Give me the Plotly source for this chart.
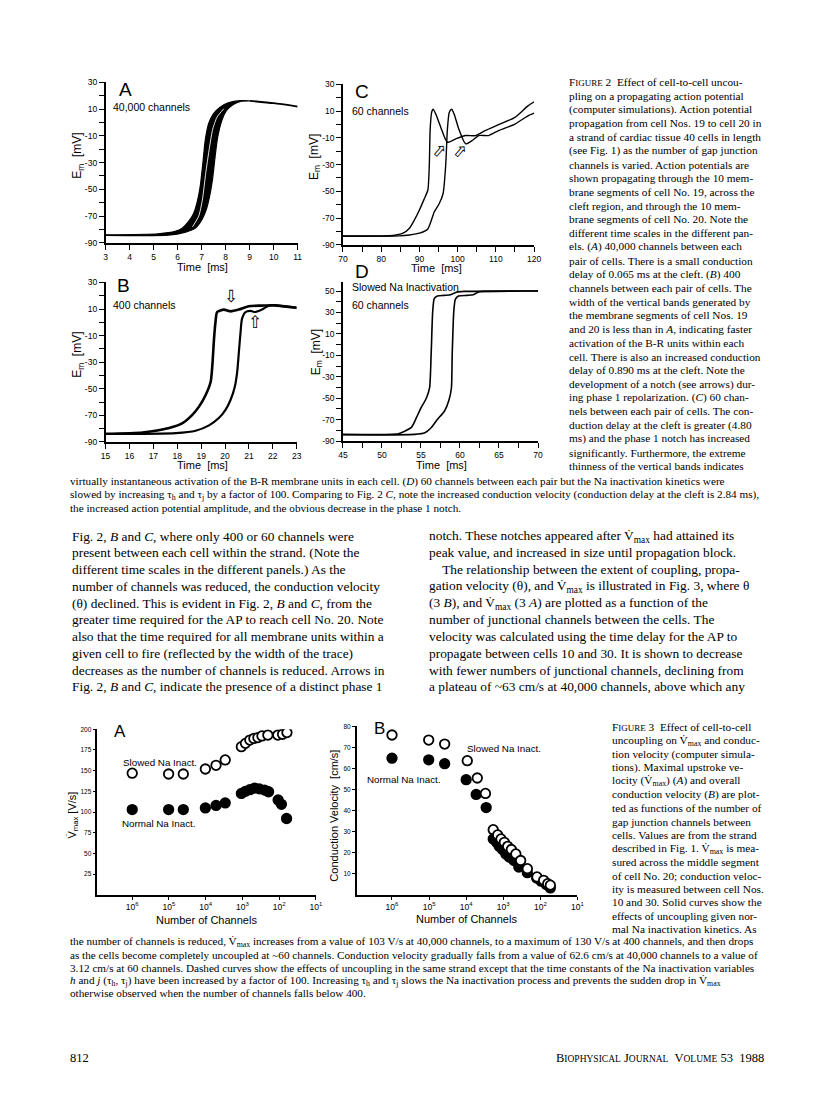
import plotly.graph_objects as go

# the page body adds an 8px margin, so the figure is 16px smaller than the window
OFF = 8
W, H = 816 - 2 * OFF, 1097 - 2 * OFF

# ---------------- Fig. 2 data (time [ms], Em [mV]) ----------------
# A: 40,000 channels - band of membrane segments, leading and trailing edges
a_lead_t = [3, 5.2, 5.9, 6.19, 6.46, 6.67, 6.81, 6.94, 7.05, 7.15, 7.29, 7.49, 7.77, 8.11, 8.66, 9.0]
a_lead_v = [-84, -83.2, -81.4, -79, -74, -67.8, -60, -48, -30.6, -13.3, -0.9, 6.5, 11.4, 14.7, 16.4, 16.2]
a_trail_t = [3, 5.6, 6.33, 6.74, 7.01, 7.19, 7.33, 7.45, 7.56, 7.67, 7.84, 8.04, 8.32, 8.66, 9.0]
a_trail_v = [-84.4, -84.3, -82, -79, -72.7, -65.3, -55.4, -43, -25.7, -10.8, 1.5, 9, 13.4, 15.9, 16.2]
a_gap_t = [6.62, 6.88, 7.03, 7.17, 7.31, 7.45, 7.64, 7.92]
a_gap_v = [-78, -70, -58, -38, -20.7, -5.9, 4, 10.2]
a_tail_t = [9.0, 10.0, 11.0]
a_tail_v = [16.2, 14.4, 11.9]

# B: 400 channels
b19_t = [15, 16.55, 17.66, 18.22, 18.63, 18.91, 19.19, 19.4, 19.47, 19.54, 19.6, 19.67, 19.95, 20.23, 20.58, 20.99, 21.55, 22.1, 23]
b19_v = [-83.8, -82.8, -79.5, -75.8, -69.6, -63.4, -54.6, -44.7, -32.2, -12.3, 0.1, 7.8, 9.6, 8.3, 9.6, 12.1, 12.6, 12.8, 11]
b20_t = [15, 17.94, 18.77, 19.33, 19.74, 20.02, 20.23, 20.41, 20.51, 20.58, 20.65, 20.71, 20.85, 21.06, 21.27, 21.55, 21.82, 22.1, 23]
b20_v = [-84, -83.3, -81.5, -77.5, -72, -65.8, -58.4, -48.4, -37.2, -22.3, -7.3, 2.6, 7.6, 8.6, 7.8, 9.6, 12.6, 12.8, 11]
b_arrow_t = [20.26, 21.27]
b_arrow_v = [19.5, 0.5]
b_arrow_s = ["⇩", "⇧"]

# C: 60 channels
c19_t = [70, 83.1, 85.7, 87.4, 88.7, 90.0, 91.3, 92.2, 92.6, 92.8, 93.2, 93.6, 94.3, 95.6, 97.3, 99.5, 102.1, 104.7, 107.2, 110.7, 115, 118.4, 120]
c19_v = [-83.3, -83, -81.3, -77.6, -71.4, -64, -55.4, -49.2, -29.4, -4.6, 9, 11.4, 7.7, -2.2, -13.3, -10.8, -8.3, -8.3, -4.6, -0.2, 5.3, 13.9, 17]
c20_t = [70, 84.8, 87.4, 90, 92.2, 93, 93.9, 95.2, 96.2, 96.9, 97.3, 97.8, 98.4, 99.1, 100.3, 102.1, 103.8, 105.5, 108.1, 110.7, 115, 118.4, 120]
c20_v = [-83.6, -83.3, -82.6, -81.3, -78.1, -72.7, -65.3, -59.1, -51.6, -29.4, -4.6, 9, 11.4, 7.7, -3.4, -14.5, -12, -8.3, -8.3, -4.6, 0.3, 6.5, 8.5]
c_arrow_t = [95.2, 100.5]
c_arrow_v = [-20, -20]

# D: slowed Na inactivation, 60 channels
d19_t = [45, 52.1, 52.97, 53.8, 54.4, 55.0, 55.7, 56.1, 56.3, 56.5, 56.7, 57.1, 58.0, 58.8, 59.6, 60.5, 68.4, 70]
d19_v = [-83.8, -83.2, -80.7, -77, -68.4, -59.1, -49.8, -40.5, -9.6, 30.5, 42.9, 45.4, 46, 46.6, 49.1, 49.7, 50, 50]
d20_t = [45, 54.2, 55.5, 56.3, 57.1, 58.0, 58.6, 58.9, 59.0, 59.2, 59.4, 59.8, 60.9, 61.7, 62.4, 63, 68.4, 70]
d20_v = [-84.2, -83.8, -82.3, -77.6, -69.9, -62.2, -51.4, -40.5, -9.6, 30.5, 42.3, 45.4, 46, 46.6, 49.1, 49.7, 50, 50]

# ---------------- Fig. 3 data (log10 number of channels) ----------------
vmax_slow_log = [6.0, 5.01, 4.61, 4.01, 3.72, 3.47, 3.03, 2.92, 2.80, 2.69, 2.58, 2.47, 2.31, 2.04, 1.91, 1.79]
vmax_slow = [147, 146, 146, 152, 156.5, 163, 179, 183, 187, 189, 190, 192, 193, 193, 194, 196]
vmax_norm_log = [6.0, 5.01, 4.61, 4.01, 3.72, 3.47, 3.03, 2.92, 2.80, 2.67, 2.54, 2.40, 2.29, 2.03, 1.94, 1.80]
vmax_norm = [103, 103, 103, 105, 108, 111, 122.5, 125, 127, 129, 128, 126.6, 124.5, 114.6, 109.3, 92.2]

cv_slow_log = [6.0, 5.01, 4.58, 3.97, 3.70, 3.48, 3.27, 3.15, 3.06, 2.97, 2.88, 2.78, 2.66, 2.53, 2.35, 2.09, 1.91, 1.80, 1.73]
cv_slow = [75.9, 73.5, 71.6, 63.7, 55.5, 48.2, 31.0, 28.5, 26.6, 25.0, 23.1, 21.6, 19.5, 16.4, 12.5, 8.6, 7.0, 5.4, 4.7]
cv_norm_log = [6.0, 5.01, 4.58, 4.0, 3.73, 3.46, 3.27, 3.18, 3.11, 3.02, 2.93, 2.84, 2.71, 2.58, 2.35, 2.10, 1.98, 1.84, 1.73]
cv_norm = [64.9, 64.1, 62.3, 54.7, 47.7, 41.5, 26.6, 25.0, 23.1, 21.6, 19.5, 18.0, 16.4, 13.3, 10.6, 8.1, 6.6, 5.0, 3.4]

# ---------------- tick labels ----------------
em_ticks = [30, 20, 10, 0, -10, -20, -30, -40, -50, -60, -70, -80, -90]
em_labels = ["30", "", "10", "", "-10", "", "-30", "", "-50", "", "-70", "", "-90"]
d_em_ticks = [50, 40, 30, 20, 10, 0, -10, -20, -30, -40, -50, -60, -70, -80, -90]
d_em_labels = ["50", "", "30", "", "10", "", "-10", "", "-30", "", "-50", "", "-70", "", "-90"]
a_ticks = [3, 4, 5, 6, 7, 8, 9, 10, 11]
b_ticks = [15, 16, 17, 18, 19, 20, 21, 22, 23]
c_ticks = [70, 75, 80, 85, 90, 95, 100, 105, 110, 115, 120]
c_labels = ["70", "", "80", "", "90", "", "100", "", "110", "", "120"]
d_ticks = [45, 47.5, 50, 52.5, 55, 57.5, 60, 62.5, 65, 67.5, 70]
d_labels = ["45", "", "50", "", "55", "", "60", "", "65", "", "70"]
chan_ticks = [1e6, 1e5, 1e4, 1e3, 1e2, 1e1]
chan_labels = ["10<sup>6</sup>", "10<sup>5</sup>", "10<sup>4</sup>", "10<sup>3</sup>", "10<sup>2</sup>", "10<sup>1</sup>"]
vmax_ticks = [25, 50, 75, 100, 125, 150, 175, 200]
cv_ticks = [10, 20, 30, 40, 50, 60, 70, 80]

fig = go.Figure()
black = "black"
sans = "Liberation Sans"
serif = "Liberation Serif"
ann = []


def px(x):
    return (x - OFF) / W


def py(y):
    return 1 - (y - OFF) / H


def note(x, y, s, size=11.5, family=serif, xa="left", ya="middle", angle=0):
    ann.append(dict(x=px(x), y=py(y), xref="paper", yref="paper", text=s, showarrow=False,
                    xanchor=xa, yanchor=ya, textangle=angle,
                    font=dict(size=size, family=family, color=black)))


def line(t, v, n, width=1.6, color=black):
    fig.add_trace(go.Scatter(x=t, y=v, mode="lines",
                             line=dict(color=color, width=width, shape="spline", smoothing=0.6),
                             xaxis=f"x{n}", yaxis=f"y{n}", hoverinfo="skip"))


# Fig 2 A band
fig.add_trace(go.Scatter(x=a_lead_t + a_trail_t[::-1], y=a_lead_v + a_trail_v[::-1], mode="lines",
                         fill="toself", fillcolor=black,
                         line=dict(color=black, width=1.2, shape="spline", smoothing=0.6),
                         xaxis="x", yaxis="y", hoverinfo="skip"))
line(a_tail_t, a_tail_v, "", 1.8)
line(a_gap_t, a_gap_v, "", 0.9, "white")
# B
line(b19_t, b19_v, 2, 2.6)
line(b20_t, b20_v, 2, 2.2)
# C
line(c19_t, c19_v, 3, 1.4)
line(c20_t, c20_v, 3, 1.4)
# D
line(d19_t, d19_v, 4, 1.6)
line(d20_t, d20_v, 4, 1.6)

# Fig 3
for xs, ys, n, filled in [(vmax_norm_log, vmax_norm, 5, True), (vmax_slow_log, vmax_slow, 5, False),
                          (cv_norm_log, cv_norm, 6, True), (cv_slow_log, cv_slow, 6, False)]:
    fig.add_trace(go.Scatter(x=[10 ** v for v in xs], y=ys, mode="markers",
                             marker=dict(size=9.5, color=black if filled else "white",
                                         line=dict(color=black, width=1.8)),
                             xaxis=f"x{n}", yaxis=f"y{n}", hoverinfo="skip"))

for t, v, s in zip(b_arrow_t, b_arrow_v, b_arrow_s):
    ann.append(dict(x=t, y=v, xref="x2", yref="y2", text=s, showarrow=False,
                    font=dict(size=17, family="DejaVu Sans", color=black)))
for t, v in zip(c_arrow_t, c_arrow_v):
    ann.append(dict(x=t, y=v, xref="x3", yref="y3", text="⇧", showarrow=False, textangle=40,
                    font=dict(size=17, family="DejaVu Sans", color=black)))

ax_common = dict(showline=True, linecolor=black, linewidth=1.5, ticks="outside", tickcolor=black,
                 tickwidth=1.3, showgrid=False, zeroline=False, fixedrange=True)


def set_axes(n, xdom, ydom, xr, yr, xt, xl, yt, yl, tick_size=8.5, xtick_size=None, xtype="linear", ticklen=5):
    key = "" if n == 1 else str(n)
    fig.layout[f"xaxis{key}"] = dict(ax_common, domain=[px(xdom[0]), px(xdom[1])], range=xr, type=xtype,
                                     anchor=f"y{key}", tickvals=xt, ticktext=xl, ticklen=ticklen,
                                     tickfont=dict(size=xtick_size or tick_size, family=sans, color=black))
    fig.layout[f"yaxis{key}"] = dict(ax_common, domain=[py(ydom[1]), py(ydom[0])], range=yr,
                                     anchor=f"x{key}", tickvals=yt, ticktext=yl, ticklen=ticklen,
                                     tickfont=dict(size=tick_size, family=sans, color=black))


set_axes(1, (102, 297), (78, 240), [3, 11], [-90, 30], a_ticks, [str(v) for v in a_ticks], em_ticks, em_labels)
set_axes(2, (102, 296), (280, 441), [15, 23], [-90, 30], b_ticks, [str(v) for v in b_ticks], em_ticks, em_labels)
set_axes(3, (343, 537), (80, 242), [70, 120], [-90, 30], c_ticks, c_labels, em_ticks, em_labels)
set_axes(4, (343, 541), (280, 440), [45, 70], [-90, 58], d_ticks, d_labels, d_em_ticks, d_em_labels)
set_axes(5, (93.6, 315.6), (731, 898), [6.95, 1], [0, 200], chan_ticks, chan_labels,
         vmax_ticks, [str(v) for v in vmax_ticks], tick_size=6.5, xtick_size=8.5, xtype="log", ticklen=3)
set_axes(6, (357, 581), (728, 898.3), [6.95, 1], [0, 80], chan_ticks, chan_labels,
         cv_ticks, [str(v) for v in cv_ticks], tick_size=6.5, xtick_size=8.5, xtype="log", ticklen=3)

# Fig 2 panel text
for x, y, s in [(114, 85, "A"), (112, 283, "B"), (353, 87, "C"), (353, 269, "D")]:
    note(x, y, s, 19, sans)
for x, y, s in [(107, 103, "40,000 channels"), (107, 303, "400 channels"), (350, 107, "60 channels"),
                (350, 285, "Slowed Na Inactivation"), (350, 303, "60 channels")]:
    note(x, y, s, 10.5, sans)
for x, y in [(200, 264), (200, 464), (438, 265), (443, 464)]:
    note(x, y, "Time  [ms]", 11, sans, xa="center")
for x, y in [(74, 152), (74, 353), (314, 153), (316, 350)]:
    note(x, y, "E<sub>m</sub>  [mV]", 12, sans, xa="center", angle=-90)

# Fig 3 panel text
note(108, 733, "A", 17, sans)
note(372, 730, "B", 17, sans)
note(118, 765, "Slowed Na Inact.", 9.8, sans)
note(117, 826, "Normal Na Inact.", 9.8, sans)
note(467, 750, "Slowed Na Inact.", 9.8, sans)
note(365, 782, "Normal Na Inact.", 9.8, sans)
note(204, 923, "Number of Channels", 11, sans, xa="center")
note(468, 922, "Number of Channels", 11, sans, xa="center")
note(68, 818, "V\u0307<sub>max</sub> [V/s]", 11, sans, xa="center", angle=-90)
note(333, 818, "Conduction Velocity  [cm/s]", 11, sans, xa="center", angle=-90)

# captions
sc = "<span style='font-size:9px'>"
vmax = "V\u0307<sub>max</sub>"
fig2_caption = [
    "F" + sc + "IGURE</span> 2  Effect of cell-to-cell uncou-",
    "pling on a propagating action potential",
    "(computer simulations). Action potential",
    "propagation from cell Nos. 19 to cell 20 in",
    "a strand of cardiac tissue 40 cells in length",
    "(see Fig. 1) as the number of gap junction",
    "channels is varied. Action potentials are",
    "shown propagating through the 10 mem-",
    "brane segments of cell No. 19, across the",
    "cleft region, and through the 10 mem-",
    "brane segments of cell No. 20. Note the",
    "different time scales in the different pan-",
    "els. (<i>A</i>) 40,000 channels between each",
    "pair of cells. There is a small conduction",
    "delay of 0.065 ms at the cleft. (<i>B</i>) 400",
    "channels between each pair of cells. The",
    "width of the vertical bands generated by",
    "the membrane segments of cell Nos. 19",
    "and 20 is less than in <i>A</i>, indicating faster",
    "activation of the B-R units within each",
    "cell. There is also an increased conduction",
    "delay of 0.890 ms at the cleft. Note the",
    "development of a notch (see arrows) dur-",
    "ing phase 1 repolarization. (<i>C</i>) 60 chan-",
    "nels between each pair of cells. The con-",
    "duction delay at the cleft is greater (4.80",
    "ms) and the phase 1 notch has increased",
    "significantly. Furthermore, the extreme",
    "thinness of the vertical bands indicates",
]
for i, s in enumerate(fig2_caption):
    note(570, 78 + i * 13.84, s, 11.3)

fig2_caption_wide = [
    "virtually instantaneous activation of the B-R membrane units in each cell. (<i>D</i>) 60 channels between each pair but the Na inactivation kinetics were",
    "slowed by increasing τ<sub>h</sub> and τ<sub>j</sub> by a factor of 100. Comparing to Fig. 2 <i>C</i>, note the increased conduction velocity (conduction delay at the cleft is 2.84 ms),",
    "the increased action potential amplitude, and the obvious decrease in the phase 1 notch.",
]
for i, s in enumerate(fig2_caption_wide):
    note(64, 481 + i * 13.5, s, 11.2)

body_left = [
    "Fig. 2, <i>B</i> and <i>C</i>, where only 400 or 60 channels were",
    "present between each cell within the strand. (Note the",
    "different time scales in the different panels.) As the",
    "number of channels was reduced, the conduction velocity",
    "(θ) declined. This is evident in Fig. 2, <i>B</i> and <i>C</i>, from the",
    "greater time required for the AP to reach cell No. 20. Note",
    "also that the time required for all membrane units within a",
    "given cell to fire (reflected by the width of the trace)",
    "decreases as the number of channels is reduced. Arrows in",
    "Fig. 2, <i>B</i> and <i>C</i>, indicate the presence of a distinct phase 1",
]
body_right = [
    "notch. These notches appeared after " + vmax + " had attained its",
    "peak value, and increased in size until propagation block.",
    "    The relationship between the extent of coupling, propa-",
    "gation velocity (θ), and " + vmax + " is illustrated in Fig. 3, where θ",
    "(3 <i>B</i>), and " + vmax + " (3 <i>A</i>) are plotted as a function of the",
    "number of junctional channels between the cells. The",
    "velocity was calculated using the time delay for the AP to",
    "propagate between cells 10 and 30. It is shown to decrease",
    "with fewer numbers of junctional channels, declining from",
    "a plateau of ~63 cm/s at 40,000 channels, above which any",
]
for i, s in enumerate(body_left):
    note(66, 536 + i * 16.9, s, 13.4)
for i, s in enumerate(body_right):
    note(428, 536 + i * 16.9, s, 13.4)

fig3_caption = [
    "F" + sc + "IGURE</span> 3  Effect of cell-to-cell",
    "uncoupling on " + vmax + " and conduc-",
    "tion velocity (computer simula-",
    "tions). Maximal upstroke ve-",
    "locity (" + vmax + ") (<i>A</i>) and overall",
    "conduction velocity (<i>B</i>) are plot-",
    "ted as functions of the number of",
    "gap junction channels between",
    "cells. Values are from the strand",
    "described in Fig. 1. " + vmax + " is mea-",
    "sured across the middle segment",
    "of cell No. 20; conduction veloc-",
    "ity is measured between cell Nos.",
    "10 and 30. Solid curves show the",
    "effects of uncoupling given nor-",
    "mal Na inactivation kinetics. As",
]
for i, s in enumerate(fig3_caption):
    note(614, 729 + i * 13.6, s, 11.3)

fig3_caption_wide = [
    "the number of channels is reduced, " + vmax + " increases from a value of 103 V/s at 40,000 channels, to a maximum of 130 V/s at 400 channels, and then drops",
    "as the cells become completely uncoupled at ~60 channels. Conduction velocity gradually falls from a value of 62.6 cm/s at 40,000 channels to a value of",
    "3.12 cm/s at 60 channels. Dashed curves show the effects of uncoupling in the same strand except that the time constants of the Na inactivation variables",
    "<i>h</i> and <i>j</i> (τ<sub>h</sub>, τ<sub>j</sub>) have been increased by a factor of 100. Increasing τ<sub>h</sub> and τ<sub>j</sub> slows the Na inactivation process and prevents the sudden drop in " + vmax,
    "otherwise observed when the number of channels falls below 400.",
]
for i, s in enumerate(fig3_caption_wide):
    note(64, 946 + i * 12.9, s, 11.2)

# footer
note(64, 1063, "812", 12.5)
fs = "<span style='font-size:9.5px'>"
note(772, 1063, "B" + fs + "IOPHYSICAL</span> J" + fs + "OURNAL</span>  V" + fs + "OLUME</span> 53  1988",
     12.5, xa="right")

fig.update_layout(width=W, height=H, margin=dict(l=0, r=0, t=0, b=0), showlegend=False,
                  paper_bgcolor="white", plot_bgcolor="white", annotations=ann)

fig.write_html("out.html")
